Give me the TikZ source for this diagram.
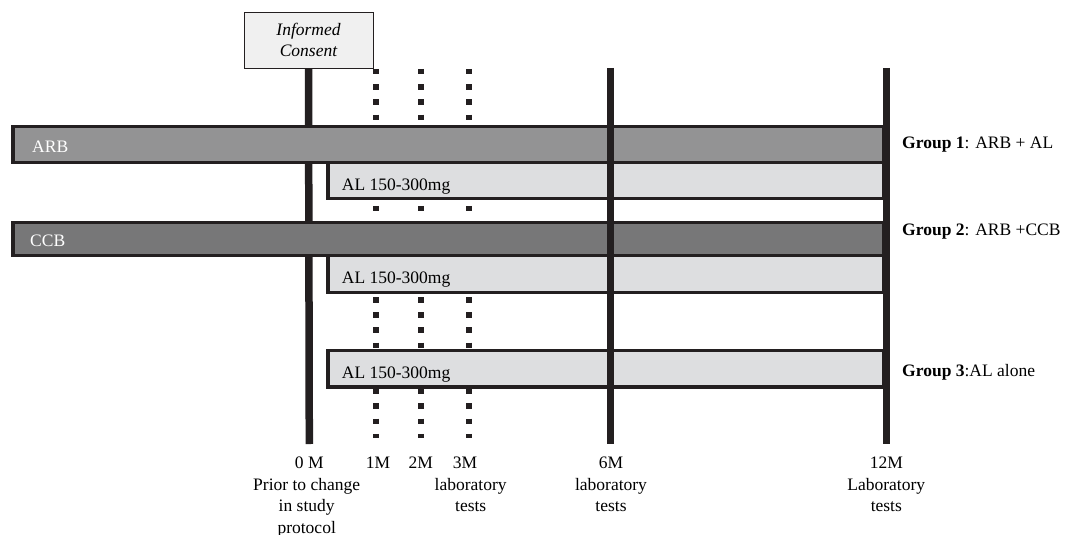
\documentclass[tikz,border=0pt]{standalone}
\usepackage{fontspec}
\setmainfont{Liberation Serif}
\definecolor{ink}{RGB}{35,31,32}
\definecolor{arbgray}{RGB}{147,147,148}
\definecolor{ccbgray}{RGB}{119,119,120}
\definecolor{algray}{RGB}{221,222,224}
\definecolor{boxgray}{RGB}{240,240,240}
\begin{document}
\begin{tikzpicture}[x=1pt,y=-1pt,
  lbl/.style={inner sep=0pt, font=\fontsize{17.5}{21}\selectfont, anchor=base},
  lblw/.style={lbl, anchor=base west},
  barbox/.style={draw=ink, line width=3.5pt},
  tline/.style={draw=ink, line width=7.5pt},
  dotline/.style={draw=ink, line width=6pt, dash pattern=on 5.5pt off 9.7pt}]
\useasboundingbox (0,0) rectangle (1066,535);

% informed consent
\node[draw=ink, line width=0.8pt, fill=boxgray, minimum width=129pt, minimum height=56pt,
      inner sep=0pt, align=center, font=\fontsize{17.5}{21}\selectfont\itshape] (ic) at (308.5,40) {Informed\\Consent};

% timeline coordinates
\coordinate (m0b) at (309.3,444);
\coordinate (m1t) at (375.8,69);  \coordinate (m1b) at (375.8,438);
\coordinate (m2t) at (421.3,69);  \coordinate (m2b) at (421.3,438);
\coordinate (m3t) at (469.3,69);  \coordinate (m3b) at (469.3,438);
\coordinate (m6t) at (610.3,68);  \coordinate (m6b) at (610.3,444);
\coordinate (m12t) at (886.3,68); \coordinate (m12b) at (886.3,444);

% lines behind bars
\draw[tline] (ic.south) -- (m0b);
\draw[dotline] (m1t) -- (m1b);
\draw[dotline] (m2t) -- (m2b);
\draw[dotline] (m3t) -- (m3b);

% bars
\draw[barbox, fill=arbgray] (13,126.5) rectangle (884,162.5);
\draw[barbox, fill=algray] (328,162.5) rectangle (884,198.5);
\draw[barbox, fill=ccbgray] (13,222.5) rectangle (884,255.5);
\draw[barbox, fill=algray] (328,255.5) rectangle (884,292.5);
\draw[barbox, fill=algray] (328,350.5) rectangle (884,387);

% lines on top
\draw[tline] (m6t) -- (m6b);
\draw[tline] (m12t) -- (m12b);

% bar labels
\node[lblw, text=white] (arb) at (32,152) {ARB};
\node[lblw, text=white] (ccb) at (30,246.5) {CCB};
\node[lblw] (al1) at (341.7,190) {AL 150-300mg};
\node[lblw] (al2) at (341.7,283) {AL 150-300mg};
\node[lblw] (al3) at (341.7,378) {AL 150-300mg};

% group labels
\node[lblw] (g1) at (902,148.3) {\textbf{Group 1}: ARB + AL};
\node[lblw] (g2) at (902,235) {\textbf{Group 2}: ARB +CCB};
\node[lblw] (g3) at (902,376.7) {\textbf{Group 3}:AL alone};

% bottom labels
\node[lbl] (l0a) at (309.3,468) {0 M};
\node[lbl] (l0b) at (306.7,490) {Prior to change};
\node[lbl] (l0c) at (306.7,511.7) {in study};
\node[lbl] (l0d) at (306.7,533) {protocol};
\node[lbl] (l1) at (378,468) {1M};
\node[lbl] (l2) at (420.7,468) {2M};
\node[lbl] (l3) at (465,468) {3M};
\node[lbl] (l3b) at (470.7,490) {laboratory};
\node[lbl] (l3c) at (470.7,511.7) {tests};
\node[lbl] (l6) at (611,468) {6M};
\node[lbl] (l6b) at (611,490) {laboratory};
\node[lbl] (l6c) at (611,511.7) {tests};
\node[lbl] (l12) at (886.3,468) {12M};
\node[lbl] (l12b) at (886.3,490) {Laboratory};
\node[lbl] (l12c) at (886.3,511.7) {tests};
\end{tikzpicture}
\end{document}
